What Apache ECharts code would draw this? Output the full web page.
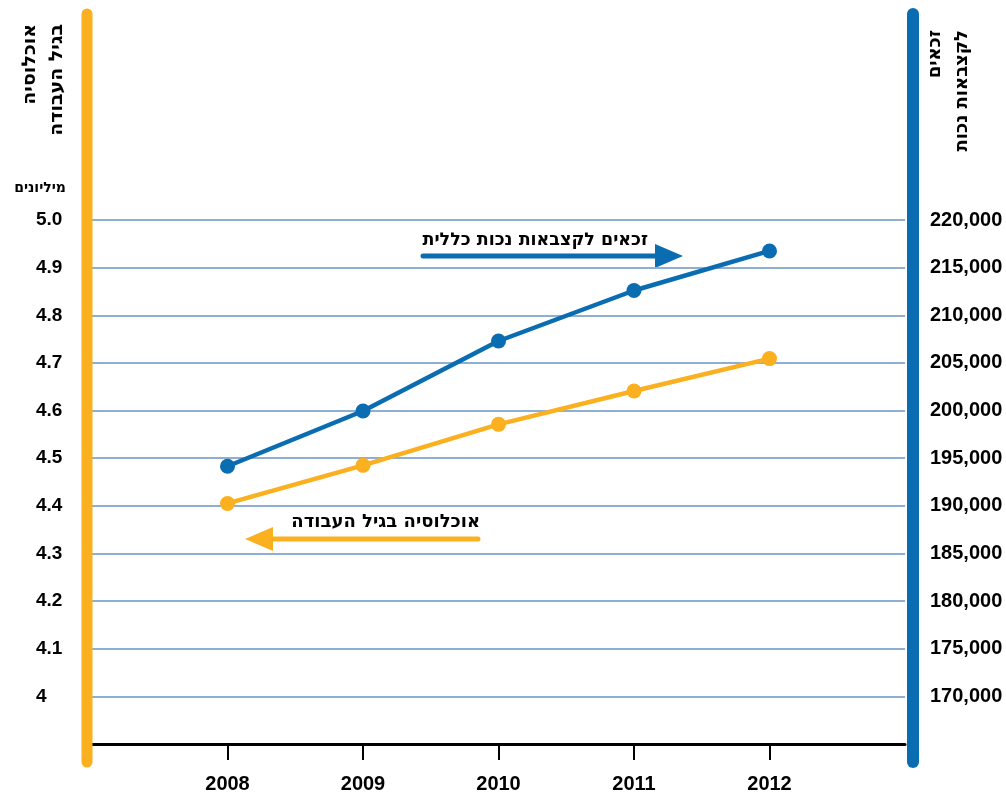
<!DOCTYPE html>
<html>
<head>
<meta charset="utf-8">
<script src="https://cdn.jsdelivr.net/npm/echarts@6/dist/echarts.min.js"></script>
<style>html,body{margin:0;padding:0;background:#fff}#c{width:1006px;height:794px}</style>
</head>
<body>
<div id="c"></div>
<script>
const years = ['2008', '2009', '2010', '2011', '2012'];
const workingAgePop = [4.405, 4.485, 4.571, 4.641, 4.709];      // millions (left axis)
const disabilityRecipients = [194150, 199950, 207300, 212600, 216750]; // right axis
const leftTitle = ['אוכלוסיה', 'בגיל העבודה'];
const rightTitle = ['זכאים', 'לקצבאות נכות'];
const unitLabel = 'מיליונים';
const blueNote = 'זכאים לקצבאות נכות כללית';
const orangeNote = 'אוכלוסיה בגיל העבודה';

const ORANGE = '#fbb020', BLUE = '#0a6cb1', GRID = '#8eaed2';
const NUMFONT = 'Liberation Sans, Arial, sans-serif';
const HEBFONT = '"DejaVu Sans", "Liberation Sans", sans-serif';

const cats = [''].concat(years).concat(['']);
const pad = a => [null].concat(a).concat([null]);

const chart = echarts.init(document.getElementById('c'));
chart.setOption({
  animation: false,
  grid: { left: 92, right: 101, top: 220, bottom: 47 },
  xAxis: {
    type: 'category', data: cats, boundaryGap: false,
    axisLine: { lineStyle: { color: '#000', width: 3 } },
    axisTick: { show: true, length: 16, lineStyle: { color: '#000', width: 2 },
      interval: (i, v) => v !== '' },
    axisLabel: { interval: (i, v) => v !== '', margin: 30, color: '#000',
      fontFamily: NUMFONT, fontWeight: 'bold', fontSize: 20 },
    splitLine: { show: false }
  },
  yAxis: [
    { type: 'value', min: 3.9, max: 5.0, interval: 0.1, position: 'left',
      axisLine: { show: false }, axisTick: { show: false },
      axisLabel: { align: 'left', margin: 56, color: '#000', fontFamily: NUMFONT,
        fontWeight: 'bold', fontSize: 19,
        formatter: v => v < 3.95 ? '' : (Math.abs(v - 4) < 1e-6 ? '4' : v.toFixed(1)) },
      splitLine: { show: true, lineStyle: { color: GRID, width: 2 } } },
    { type: 'value', min: 165000, max: 220000, interval: 5000, position: 'right',
      axisLine: { show: false }, axisTick: { show: false },
      axisLabel: { margin: 25, color: '#000', fontFamily: NUMFONT,
        fontWeight: 'bold', fontSize: 20,
        formatter: v => v < 167000 ? '' : v.toLocaleString('en-US') },
      splitLine: { show: false } }
  ],
  series: [
    { type: 'line', yAxisIndex: 1, data: pad(disabilityRecipients),
      symbol: 'circle', symbolSize: 15, lineStyle: { color: BLUE, width: 4.5 },
      itemStyle: { color: BLUE }, z: 3 },
    { type: 'line', yAxisIndex: 0, data: pad(workingAgePop),
      symbol: 'circle', symbolSize: 15, lineStyle: { color: ORANGE, width: 4.5 },
      itemStyle: { color: ORANGE }, z: 3 }
  ],
  graphic: [
    { type: 'line', z: 100, shape: { x1: 87, y1: 14, x2: 87, y2: 762 },
      style: { stroke: ORANGE, lineWidth: 11, lineCap: 'round' } },
    { type: 'line', z: 100, shape: { x1: 913, y1: 14, x2: 913, y2: 762 },
      style: { stroke: BLUE, lineWidth: 12, lineCap: 'round' } },
    { type: 'text', x: 30, y: 24, rotation: Math.PI / 2,
      style: { text: leftTitle[0], font: 'bold 19px ' + HEBFONT, fill: '#000',
        textAlign: 'right', textVerticalAlign: 'middle' } },
    { type: 'text', x: 57, y: 24, rotation: Math.PI / 2,
      style: { text: leftTitle[1], font: 'bold 19px ' + HEBFONT, fill: '#000',
        textAlign: 'right', textVerticalAlign: 'middle' } },
    { type: 'text', x: 935, y: 30, rotation: Math.PI / 2,
      style: { text: rightTitle[0], font: 'bold 18px ' + HEBFONT, fill: '#000',
        textAlign: 'right', textVerticalAlign: 'middle' } },
    { type: 'text', x: 962, y: 30, rotation: Math.PI / 2,
      style: { text: rightTitle[1], font: 'bold 18px ' + HEBFONT, fill: '#000',
        textAlign: 'right', textVerticalAlign: 'middle' } },
    { type: 'text', x: 66, y: 188,
      style: { text: unitLabel, font: 'bold 14px ' + HEBFONT, fill: '#000',
        textAlign: 'right', textVerticalAlign: 'middle' } },
    { type: 'text', x: 648, y: 240,
      style: { text: blueNote, font: 'bold 17.5px ' + HEBFONT, fill: '#000',
        textAlign: 'right', textVerticalAlign: 'middle' } },
    { type: 'line', shape: { x1: 423, y1: 256, x2: 660, y2: 256 },
      style: { stroke: BLUE, lineWidth: 5, lineCap: 'round' } },
    { type: 'polygon', shape: { points: [[655, 244], [683, 256], [655, 268]] },
      style: { fill: BLUE } },
    { type: 'text', x: 480, y: 522,
      style: { text: orangeNote, font: 'bold 18px ' + HEBFONT, fill: '#000',
        textAlign: 'right', textVerticalAlign: 'middle' } },
    { type: 'line', shape: { x1: 478, y1: 539, x2: 268, y2: 539 },
      style: { stroke: ORANGE, lineWidth: 5, lineCap: 'round' } },
    { type: 'polygon', shape: { points: [[273, 527], [245, 539], [273, 551]] },
      style: { fill: ORANGE } }
  ]
});
</script>
</body>
</html>
